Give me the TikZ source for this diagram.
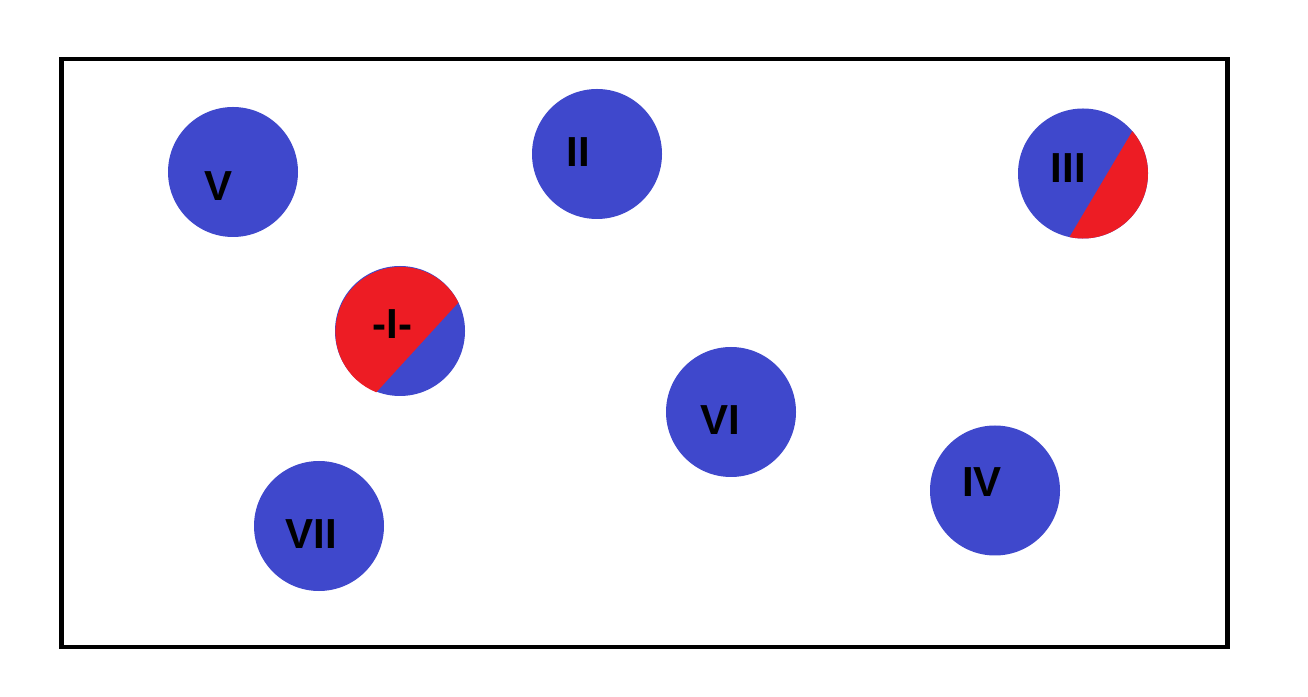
\documentclass[tikz,border=0pt]{standalone}
\usepackage{fontspec}
\setmainfont{Liberation Sans}
\definecolor{dotblue}{RGB}{63,72,204}
\definecolor{dotred}{RGB}{237,28,36}
\begin{document}
\begin{tikzpicture}[x=1pt,y=1pt,
  dot/.style={circle,fill=dotblue,draw=none,minimum size=130pt,inner sep=0pt,outer sep=0pt},
  lbl/.style={anchor=base,inner sep=0pt,outer sep=0pt,font=\fontsize{42}{42}\selectfont\bfseries},
  frame/.style={draw=black,line width=4.5pt}]
\useasboundingbox (0,0) rectangle (1308,696);
\fill[white] (0,0) rectangle (1308,696);
\draw[frame] (61.5,49) rectangle (1227.5,637);
% circles
\node[dot] (V) at (233,524) {};
\node[dot] (II) at (597,542) {};
\node[dot] (III) at (1083,522.5) {};
\node[dot] (I) at (400,365) {};
\node[dot] (VI) at (731,284) {};
\node[dot] (IV) at (995,205.5) {};
\node[dot] (VII) at (319,170) {};
% red segments
\fill[dotred] (I.26.9) arc[start angle=26.9,end angle=248.2,radius=65] -- cycle;
\fill[dotred] (III.-102) arc[start angle=-102,end angle=40.6,radius=65] -- cycle;
% labels
\node[lbl] (lV) at (219,495.3) {V};
\node[lbl] (lII) at (578,529.3) {II};
\node[lbl] (lIII) at (1068.4,513.3) {III};
\node[lbl] (lI) at (392.4,357.7) {-I-};
\node[lbl] (lVI) at (720,261.3) {VI};
\node[lbl] (lIV) at (982,199.3) {IV};
\node[lbl] (lVII) at (311,147.3) {VII};
\end{tikzpicture}
\end{document}
